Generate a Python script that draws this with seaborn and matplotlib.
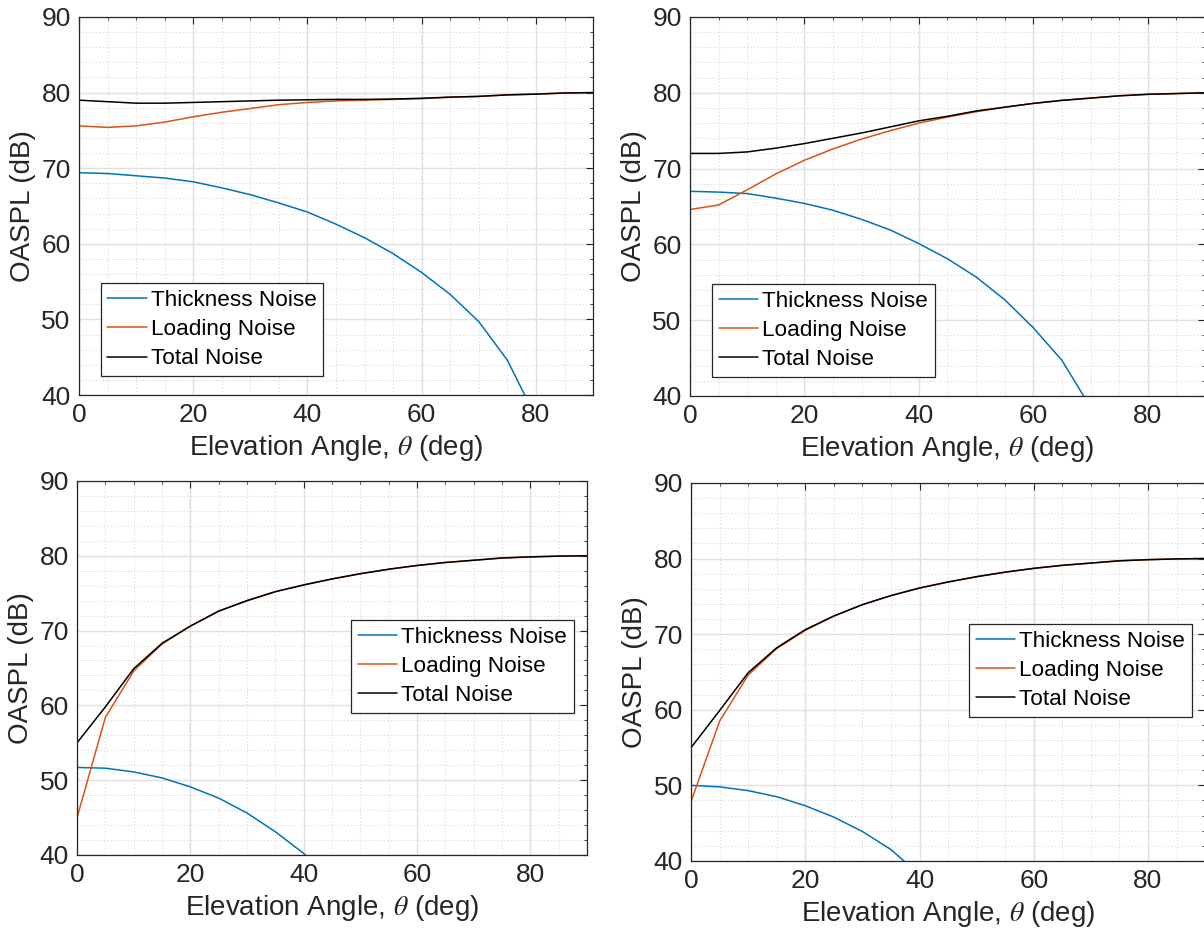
import numpy as np
import pandas as pd
import matplotlib
matplotlib.use("Agg")
import matplotlib.pyplot as plt
from matplotlib.ticker import MultipleLocator
import seaborn as sns

# ---------------- data ----------------
angle = [0, 5, 10, 15, 20, 25, 30, 35, 40, 45, 50, 55, 60, 65, 70, 75, 80, 85, 90]

# panel (a) top-left
a_thick = [69.4, 69.3, 69.0, 68.7, 68.2, 67.4, 66.5, 65.4, 64.2, 62.6, 60.8, 58.7, 56.2, 53.3, 49.7, 44.6, 37.0]
a_load = [75.6, 75.4, 75.6, 76.1, 76.8, 77.4, 77.9, 78.4, 78.7, 78.9, 79.0, 79.1, 79.2, 79.4, 79.5, 79.7, 79.8, 79.95, 80.0]
a_total = [79.0, 78.8, 78.6, 78.6, 78.7, 78.8, 78.9, 79.0, 79.05, 79.1, 79.1, 79.15, 79.25, 79.4, 79.5, 79.7, 79.8, 79.95, 80.0]

# panel (b) top-right
b_thick = [67.0, 66.9, 66.7, 66.1, 65.4, 64.5, 63.3, 61.9, 60.1, 58.1, 55.7, 52.7, 49.0, 44.7, 38.5]
b_load = [64.6, 65.2, 67.2, 69.3, 71.1, 72.6, 73.9, 75.0, 76.0, 76.8, 77.5, 78.1, 78.6, 79.0, 79.3, 79.6, 79.8, 79.9, 80.0]
b_total = [72.0, 72.0, 72.2, 72.7, 73.3, 74.0, 74.7, 75.5, 76.3, 76.9, 77.6, 78.1, 78.6, 79.0, 79.3, 79.6, 79.8, 79.9, 80.0]

# panel (c) bottom-left
c_thick = [51.7, 51.6, 51.1, 50.3, 49.1, 47.6, 45.6, 43.1, 40.2, 36.5]
c_load = [45.0, 58.4, 64.6, 68.2, 70.6, 72.6, 74.0, 75.2, 76.1, 76.9, 77.6, 78.2, 78.7, 79.1, 79.4, 79.7, 79.85, 79.95, 80.0]
c_total = [55.0, 59.8, 64.9, 68.3, 70.6, 72.6, 74.0, 75.2, 76.1, 76.9, 77.6, 78.2, 78.7, 79.1, 79.4, 79.7, 79.85, 79.95, 80.0]

# panel (d) bottom-right
d_thick = [50.0, 49.8, 49.3, 48.5, 47.3, 45.8, 43.9, 41.5, 38.2]
d_load = [47.9, 58.5, 64.6, 68.1, 70.5, 72.4, 73.9, 75.1, 76.1, 76.9, 77.6, 78.2, 78.7, 79.1, 79.4, 79.7, 79.85, 79.95, 80.0]
d_total = [55.0, 59.9, 64.9, 68.2, 70.6, 72.4, 73.9, 75.1, 76.1, 76.9, 77.6, 78.2, 78.7, 79.1, 79.4, 79.7, 79.85, 79.95, 80.0]

series_names = ["Thickness Noise", "Loading Noise", "Total Noise"]
xlabel = r"Elevation Angle, $\theta$ (deg)"
ylabel = "OASPL (dB)"

# ---------------- style ----------------
sns.set_theme(style="white")
plt.rcParams["font.family"] = ["Liberation Sans", "DejaVu Sans"]
plt.rcParams["mathtext.fontset"] = "stix"

colors = ["#0072BD", "#D95319", "#000000"]
axcol = "#262626"

fig = plt.figure(figsize=(12.04, 9.39), dpi=100)

panels = [
    ((0.0656, 0.5793, 0.4270, 0.4026), (a_thick, a_load, a_total), (0.042, 0.050)),
    ((0.5731, 0.5783, 0.4277, 0.4036), (b_thick, b_load, b_total), (0.043, 0.050)),
    ((0.0640, 0.0895, 0.4236, 0.3983), (c_thick, c_load, c_total), (0.537, 0.380)),
    ((0.5740, 0.0831, 0.4269, 0.4026), (d_thick, d_load, d_total), (0.541, 0.382)),
]

for rect, ys, legpos in panels:
    ax = fig.add_axes(rect)
    for name, y, c in zip(series_names, ys, colors):
        df = pd.DataFrame({"angle": angle[:len(y)], "oaspl": y})
        sns.lineplot(data=df, x="angle", y="oaspl", ax=ax, color=c, lw=1.1,
                     label=name, estimator=None, sort=False)
    ax.set_xlim(0, 90)
    ax.set_ylim(40, 90)
    ax.xaxis.set_major_locator(MultipleLocator(20))
    ax.xaxis.set_minor_locator(MultipleLocator(5))
    ax.yaxis.set_major_locator(MultipleLocator(10))
    ax.yaxis.set_minor_locator(MultipleLocator(2))
    ax.grid(which="major", color="#e0e0e0", lw=1.0, ls="-")
    ax.grid(which="minor", color="#d9d9d9", lw=0.8, ls=(0, (1, 2)))
    ax.set_axisbelow(True)
    ax.tick_params(which="both", direction="in", top=True, right=True,
                   colors=axcol, labelcolor=axcol, labelsize=19, pad=6)
    ax.tick_params(which="major", length=5, width=0.8)
    ax.tick_params(which="minor", length=2.5, width=0.6)
    for s in ax.spines.values():
        s.set_color(axcol)
        s.set_linewidth(0.9)
    ax.set_xlabel(xlabel, fontsize=20, color=axcol, labelpad=4)
    ax.set_ylabel(ylabel, fontsize=20, color=axcol, labelpad=4)
    leg = ax.legend(loc="lower left", bbox_to_anchor=legpos, fontsize=16.2,
                    frameon=True, fancybox=False, framealpha=1,
                    edgecolor="#262626", handlelength=1.75, handletextpad=0.17,
                    borderpad=0.3, labelspacing=0.36, borderaxespad=0)
    leg.get_frame().set_linewidth(0.9)
    for t in leg.get_texts():
        t.set_color("#000000")

fig.savefig("out.png", dpi=100)
